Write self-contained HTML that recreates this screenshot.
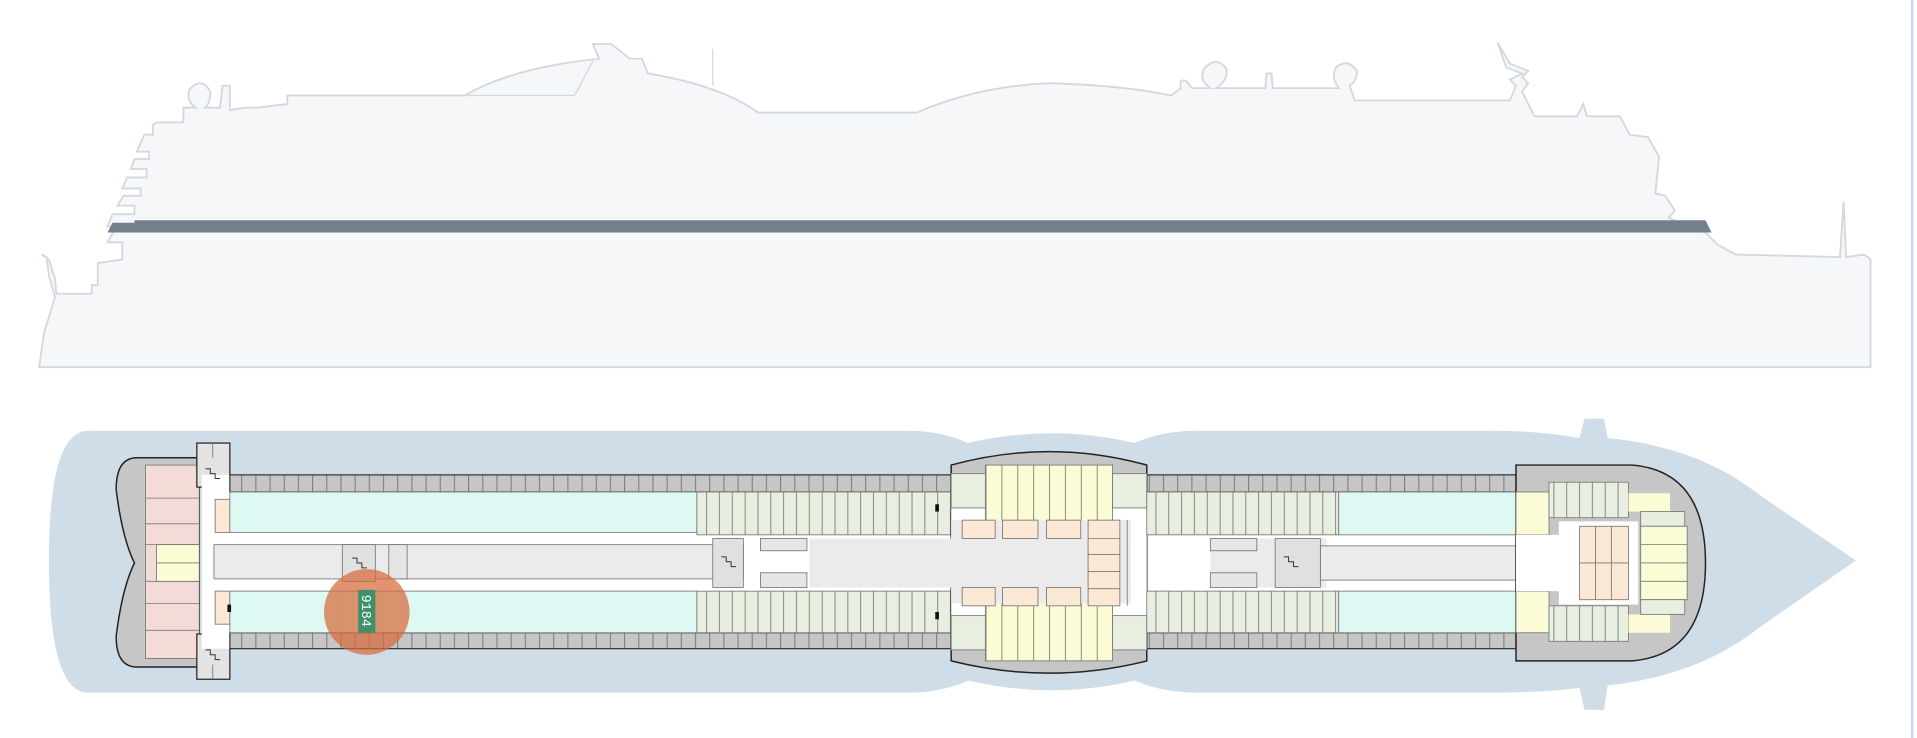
<!DOCTYPE html>
<html><head><meta charset="utf-8"><style>
html,body{margin:0;padding:0;background:#fff;width:1917px;height:738px;overflow:hidden}
svg{display:block}
</style></head><body>
<svg width="1917" height="738" viewBox="0 0 1568 603" preserveAspectRatio="none" xmlns="http://www.w3.org/2000/svg">
<defs>
<pattern id="pg" width="11.6" height="20" patternUnits="userSpaceOnUse"><rect width="11.6" height="20" fill="#c6c6c6"/><line x1="0.5" y1="0" x2="0.5" y2="20" stroke="#777" stroke-width="0.8"/></pattern>
<pattern id="pgr" width="10.5" height="60" patternUnits="userSpaceOnUse"><rect width="10.5" height="60" fill="#e8eee0"/><line x1="0.5" y1="0" x2="0.5" y2="60" stroke="#777" stroke-width="0.7"/></pattern>
<pattern id="pt" width="6" height="60" patternUnits="userSpaceOnUse"><rect width="6" height="60" fill="#dcfaf1"/><line x1="0.5" y1="0" x2="0.5" y2="60" stroke="#eef" stroke-width="0.5"/></pattern>
<pattern id="py" width="13" height="80" patternUnits="userSpaceOnUse"><rect width="13" height="80" fill="#fbfbd6"/><line x1="0.5" y1="0" x2="0.5" y2="80" stroke="#777" stroke-width="0.7"/></pattern>
</defs>
<line x1="1564" y1="0" x2="1564" y2="603" stroke="#c9d8e6" stroke-width="2"/>
<!-- side profile -->
<path d="M32,300 L36,272 L45,243 L40,225 L38,210 L34,208 L40,212 L45,228 L46,240 L75,240 L75,233 L80,233 L80,215 L100,212 L100,198 L88,198 L95,185 L88,185 L92,175 L110,175 L110,168 L96,168 L101,160 L115,160 L115,154 L100,154 L104,145 L120,145 L120,138 L107,138 L110,130 L122,130 L122,124 L112,124 L118,110 L125,110 L125,102 L128,100 L150,100 L150,88 L160,88 Q152,82 155,73 Q165,62 172,75 Q172,84 168,88 L180,88 L182,70 L188,70 L188,90 L200,88 L210,88 L235,85 L235,78 L380,78 Q420,55 490,48 L485,36 L500,36 L515,48 L525,48 L530,60 Q590,70 620,92 L750,92 Q800,70 860,68 Q920,70 958,78 L966,72 Q964,64 970,66 L975,72 L990,72 Q980,65 985,56 Q995,45 1003,56 Q1005,65 995,72 L1035,72 L1036,60 L1040,60 L1041,72 L1095,72 Q1088,62 1093,55 Q1102,47 1110,58 Q1110,66 1104,70 L1108,82 L1235,82 L1240,70 L1235,65 L1245,60 L1232,55 L1225,35 L1235,52 L1250,58 L1245,63 L1250,68 L1245,75 L1255,95 L1290,95 L1295,85 L1298,95 L1325,95 L1333,110 L1348,112 L1357,128 L1354,158 L1362,160 L1370,172 L1365,178 L1382,185 L1395,190 L1405,200 L1420,208 L1505,210 L1508,165 L1510,210 L1525,208 L1530,212 L1530,300 Z" fill="#f5f7f9" stroke="#d3d8de" stroke-width="1.5"/>
<path d="M380,78 L470,78 L485,50" fill="none" stroke="#d3d8de" stroke-width="1"/>
<line x1="583" y1="40" x2="583" y2="70" stroke="#d3d8de" stroke-width="1"/>
<path d="M110,180 L1395,180 L1400,190 L88,190 L92,182 L110,182 Z" fill="#737f8c"/>
<!-- plan hull -->
<path d="M72,352 L742,352 Q770,352 792,362 Q860,346 928,362 Q950,352 980,352 L1222,352 Q1260,352 1292,358 L1296,342 L1312,342 L1315,358 Q1390,365 1440,405 L1518,458 L1440,512 Q1390,552 1315,560 L1312,580 L1296,580 L1292,562 Q1260,566 1222,566 L980,566 Q950,566 928,556 Q860,572 792,556 Q770,566 742,566 L72,566 Q40,566 40,458 Q40,352 72,352 Z" fill="#cfdde9"/>
<!-- stern -->
<path d="M112,374 L163,374 L163,545 L112,545 Q95,545 95,520 Q100,480 110,460 Q100,440 95,400 Q95,374 112,374 Z" fill="#c6c6c6" stroke="#222" stroke-width="1.2"/>
<rect x="119" y="380" width="44" height="158" fill="#f3dcd8" stroke="#777" stroke-width="0.7"/>
<g stroke="#777" stroke-width="0.7" fill="none"><line x1="119" y1="407" x2="163" y2="407"/><line x1="119" y1="428" x2="163" y2="428"/><line x1="119" y1="445" x2="163" y2="445"/><line x1="119" y1="475" x2="163" y2="475"/><line x1="119" y1="493" x2="163" y2="493"/><line x1="119" y1="515" x2="163" y2="515"/></g>
<rect x="128" y="445" width="35" height="30" fill="#fbfbd6" stroke="#777" stroke-width="0.7"/>
<line x1="128" y1="460" x2="163" y2="460" stroke="#777" stroke-width="0.7"/>
<rect x="161" y="362" width="27" height="36" fill="#e3e3e3" stroke="#222" stroke-width="1"/>
<rect x="161" y="518" width="27" height="37" fill="#e3e3e3" stroke="#222" stroke-width="1"/>
<line x1="174" y1="362" x2="174" y2="374" stroke="#777" stroke-width="0.7"/>
<line x1="174" y1="543" x2="174" y2="555" stroke="#777" stroke-width="0.7"/>
<!-- main body -->
<rect x="165" y="388" width="1075" height="142" fill="#fff"/>
<rect x="188" y="388" width="590" height="14" fill="url(#pg)" stroke="#333" stroke-width="1"/>
<rect x="188" y="517" width="590" height="13" fill="url(#pg)" stroke="#333" stroke-width="1"/>
<rect x="938" y="388" width="302" height="14" fill="url(#pg)" stroke="#333" stroke-width="1"/>
<rect x="938" y="517" width="302" height="13" fill="url(#pg)" stroke="#333" stroke-width="1"/>
<rect x="176" y="408" width="12" height="27" fill="#fbe8d5" stroke="#777" stroke-width="0.7"/>
<rect x="176" y="483" width="12" height="27" fill="#fbe8d5" stroke="#777" stroke-width="0.7"/>
<rect x="188" y="402" width="382" height="33" fill="url(#pt)" stroke="#777" stroke-width="0.7"/>
<rect x="188" y="483" width="382" height="34" fill="url(#pt)" stroke="#777" stroke-width="0.7"/>
<rect x="570" y="402" width="208" height="35" fill="url(#pgr)" stroke="#777" stroke-width="0.7"/>
<rect x="570" y="483" width="208" height="34" fill="url(#pgr)" stroke="#777" stroke-width="0.7"/>
<rect x="175" y="445" width="433" height="28" fill="#ebebeb" stroke="#777" stroke-width="0.7"/>
<rect x="280" y="445" width="27" height="30" fill="#e0e0e0" stroke="#777" stroke-width="0.7"/>
<rect x="318" y="445" width="15" height="28" fill="#e6e6e6" stroke="#777" stroke-width="0.7"/>
<rect x="583" y="440" width="25" height="40" fill="#e0e0e0" stroke="#777" stroke-width="0.7"/>
<rect x="622" y="440" width="38" height="10" fill="#e6e6e6" stroke="#777" stroke-width="0.7"/>
<rect x="622" y="468" width="38" height="12" fill="#e6e6e6" stroke="#777" stroke-width="0.7"/>
<!-- middle -->
<path d="M778,380 Q858,358 938,380 L938,540 Q858,560 778,540 Z" fill="#c6c6c6" stroke="#222" stroke-width="1.2"/>
<rect x="778" y="412" width="160" height="96" fill="#fff"/>
<rect x="806" y="380" width="104" height="57" fill="url(#py)" stroke="#777" stroke-width="0.7"/>
<rect x="806" y="483" width="104" height="57" fill="url(#py)" stroke="#777" stroke-width="0.7"/>
<rect x="778" y="387" width="28" height="28" fill="#e8eee0" stroke="#777" stroke-width="0.7"/>
<rect x="910" y="387" width="28" height="28" fill="#e8eee0" stroke="#777" stroke-width="0.7"/>
<rect x="778" y="503" width="28" height="28" fill="#e8eee0" stroke="#777" stroke-width="0.7"/>
<rect x="910" y="503" width="28" height="28" fill="#e8eee0" stroke="#777" stroke-width="0.7"/>
<rect x="662" y="440" width="263" height="40" fill="#ebebeb"/>
<rect x="778" y="425" width="147" height="68" fill="#ebebeb"/>
<g fill="#fbe8d5" stroke="#777" stroke-width="0.7">
<rect x="787" y="425" width="27" height="15"/><rect x="820" y="425" width="29" height="15"/><rect x="856" y="425" width="28" height="15"/>
<rect x="787" y="480" width="27" height="15"/><rect x="820" y="480" width="29" height="15"/><rect x="856" y="480" width="28" height="15"/>
<rect x="890" y="425" width="26" height="70"/></g>
<g stroke="#777" stroke-width="0.7"><line x1="890" y1="440" x2="916" y2="440"/><line x1="890" y1="453" x2="916" y2="453"/><line x1="890" y1="467" x2="916" y2="467"/><line x1="890" y1="481" x2="916" y2="481"/><line x1="922" y1="425" x2="922" y2="495"/></g>
<!-- right -->
<rect x="938" y="402" width="157" height="35" fill="url(#pgr)" stroke="#777" stroke-width="0.7"/>
<rect x="938" y="483" width="157" height="34" fill="url(#pgr)" stroke="#777" stroke-width="0.7"/>
<rect x="1095" y="402" width="145" height="35" fill="url(#pt)" stroke="#777" stroke-width="0.7"/>
<rect x="1095" y="483" width="145" height="34" fill="url(#pt)" stroke="#777" stroke-width="0.7"/>
<rect x="990" y="440" width="95" height="40" fill="#ebebeb"/>
<rect x="1080" y="446" width="195" height="28" fill="#ebebeb" stroke="#777" stroke-width="0.7"/>
<rect x="990" y="440" width="38" height="10" fill="#e6e6e6" stroke="#777" stroke-width="0.7"/>
<rect x="990" y="468" width="38" height="12" fill="#e6e6e6" stroke="#777" stroke-width="0.7"/>
<rect x="1043" y="440" width="37" height="40" fill="#e0e0e0" stroke="#777" stroke-width="0.7"/>
<!-- bow -->
<path d="M1240,380 L1335,380 Q1395,385 1395,460 Q1395,535 1335,540 L1240,540 Z" fill="#c6c6c6" stroke="#222" stroke-width="1.2"/>
<rect x="1240" y="402" width="27" height="35" fill="#fbfbd6" stroke="#777" stroke-width="0.7"/>
<rect x="1240" y="483" width="27" height="34" fill="#fbfbd6" stroke="#777" stroke-width="0.7"/>
<rect x="1240" y="437" width="40" height="46" fill="#fff"/>
<rect x="1275" y="426" width="65" height="68" fill="#fff"/>
<rect x="1267" y="394" width="65" height="29" fill="url(#pgr)" stroke="#777" stroke-width="0.7"/>
<rect x="1267" y="495" width="65" height="29" fill="url(#pgr)" stroke="#777" stroke-width="0.7"/>
<rect x="1292" y="430" width="40" height="60" fill="#fbe8d5" stroke="#777" stroke-width="0.7"/>
<g stroke="#777" stroke-width="0.7"><line x1="1305" y1="430" x2="1305" y2="490"/><line x1="1318" y1="430" x2="1318" y2="490"/><line x1="1292" y1="460" x2="1332" y2="460"/></g>
<rect x="1332" y="403" width="34" height="15" fill="#fbfbd6"/>
<rect x="1332" y="502" width="34" height="15" fill="#fbfbd6"/>
<rect x="1342" y="418" width="36" height="12" fill="#e8eee0" stroke="#777" stroke-width="0.7"/>
<rect x="1342" y="430" width="38" height="60" fill="#fbfbd6" stroke="#777" stroke-width="0.7"/>
<rect x="1342" y="490" width="36" height="12" fill="#e8eee0" stroke="#777" stroke-width="0.7"/>
<g stroke="#777" stroke-width="0.7"><line x1="1342" y1="445" x2="1380" y2="445"/><line x1="1342" y1="460" x2="1380" y2="460"/><line x1="1342" y1="475" x2="1380" y2="475"/></g>
<!-- black markers -->
<rect x="186" y="494" width="3" height="6" fill="#111"/>
<rect x="765" y="412" width="3" height="6" fill="#111"/>
<rect x="765" y="500" width="3" height="6" fill="#111"/>
<!-- highlight -->
<ellipse cx="300" cy="500" rx="35" ry="35" fill="#d66a3c" fill-opacity="0.72"/>
<rect x="293" y="482" width="14" height="35" fill="#3f8f6a"/>
<text transform="translate(296,499) rotate(90)" text-anchor="middle" font-family="Liberation Mono, monospace" font-size="11" fill="#fff">9184</text>
<!-- stairs glyphs -->
<g stroke="#333" stroke-width="0.8" fill="none">
<path d="M168,383 l4,0 l0,4 l4,0 l0,4 l4,0"/><path d="M168,531 l4,0 l0,4 l4,0 l0,4 l4,0"/>
<path d="M288,456 l4,0 l0,4 l4,0 l0,4 l4,0"/><path d="M590,455 l4,0 l0,4 l4,0 l0,4 l4,0"/><path d="M1050,455 l4,0 l0,4 l4,0 l0,4 l4,0"/>
</g>
</svg>
</body></html>
